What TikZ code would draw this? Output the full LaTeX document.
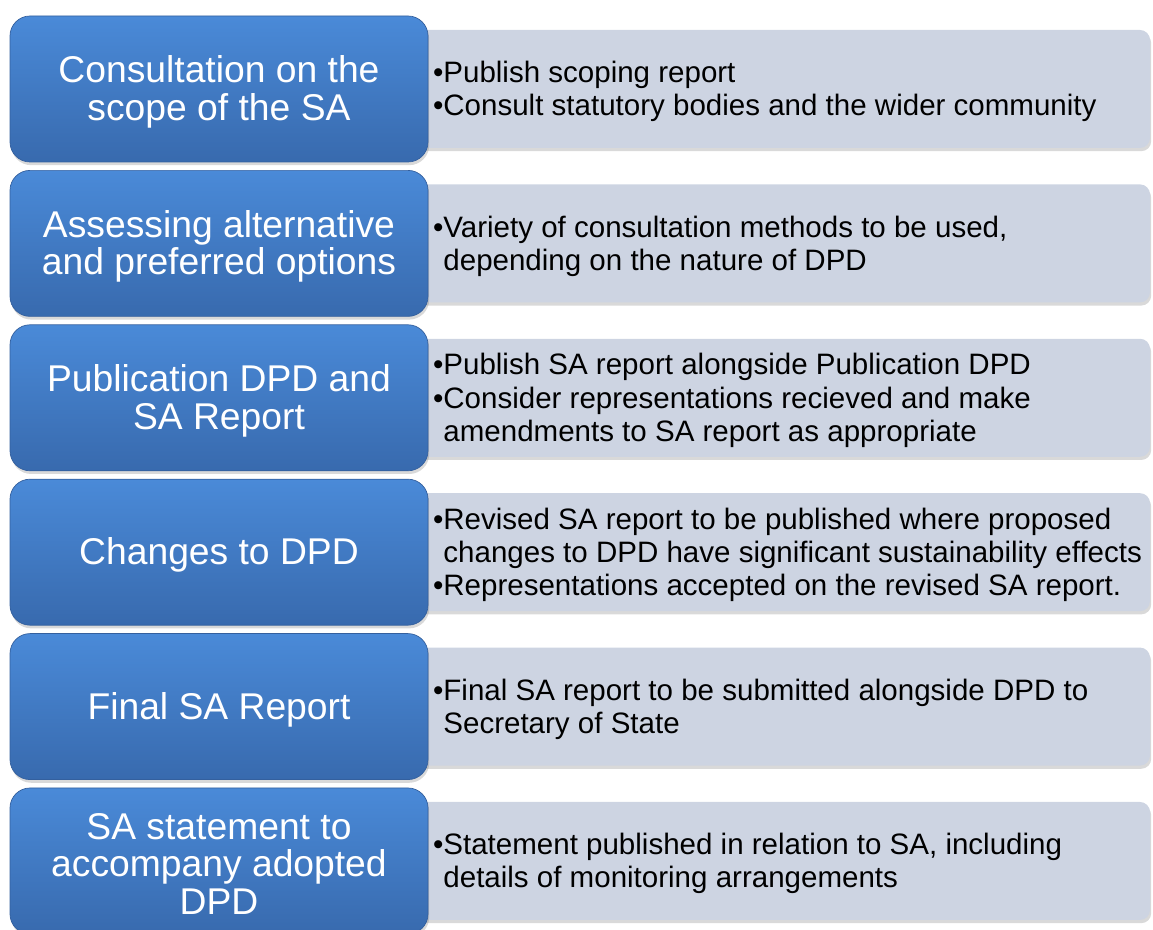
\documentclass[tikz,border=0pt]{standalone}
\usepackage{fontspec}
\setmainfont{Liberation Sans}
\usepackage{tikz}
\usetikzlibrary{shadows}

\definecolor{stagetop}{RGB}{74,138,216}
\definecolor{stagebottom}{RGB}{56,106,174}
\definecolor{stageedge}{RGB}{52,96,158}
\definecolor{notefill}{RGB}{205,212,226}

\newcommand{\bulletgap}{\phantom{•}}

\tikzset{
    stagebox/.style={rounded corners=0.5cm, top color=stagetop, bottom color=stagebottom,
        draw=stageedge, line width=0.5pt,
        drop shadow={shadow xshift=0.03cm, shadow yshift=-0.08cm, opacity=0.3}},
    notebox/.style={rounded corners=0.25cm, fill=notefill,
        drop shadow={shadow xshift=0.03cm, shadow yshift=-0.08cm, opacity=0.3}},
    stagetext/.style={text=white, align=center, inner sep=0pt,
        font=\fontsize{26.5}{27}\selectfont},
    notetext/.style={anchor=west, align=left, inner sep=0pt,
        font=\fontsize{21}{23.5}\selectfont}
}

\begin{document}
\begin{tikzpicture}
                \useasboundingbox (0,0) rectangle (28.825,23.25);

                % grey boxes first, the blue ones sit on top
                \path[notebox] (10,22.5) rectangle (28.75,19.55);
                \path[notebox] (10,18.64) rectangle (28.75,15.69);
                \path[notebox] (10,14.78) rectangle (28.75,11.83);
                \path[notebox] (10,10.92) rectangle (28.75,7.97);
                \path[notebox] (10,7.06) rectangle (28.75,4.11);
                \path[notebox] (10,3.2) rectangle (28.75,0.25);

                \draw[stagebox] (0.25,22.85) rectangle (10.7,19.2);
                \node[stagetext] (stage1) at (5.475,20.95) {Consultation on the\\scope of the SA};
                \node[notetext] (note1) at (10.82,20.96)
                    {•Publish scoping report\\•Consult statutory bodies and the wider community};

                \draw[stagebox] (0.25,18.99) rectangle (10.7,15.34);
                \node[stagetext] (stage2) at (5.475,17.09) {Assessing alternative\\and preferred options};
                \node[notetext] (note2) at (10.82,17.1)
                    {•Variety of consultation methods to be used,\\\bulletgap depending on the nature of DPD};

                \draw[stagebox] (0.25,15.13) rectangle (10.7,11.48);
                \node[stagetext] (stage3) at (5.475,13.23) {Publication DPD and\\SA Report};
                \node[notetext] (note3) at (10.82,13.24)
                    {•Publish SA report alongside Publication DPD\\•Consider representations recieved and make\\\bulletgap amendments to SA report as appropriate};

                \draw[stagebox] (0.25,11.27) rectangle (10.7,7.62);
                \node[stagetext] (stage4) at (5.475,9.37) {Changes to DPD};
                \node[notetext] (note4) at (10.82,9.38)
                    {•Revised SA report to be published where proposed\\\bulletgap changes to DPD have significant sustainability effects\\•Representations accepted on the revised SA report.};

                \draw[stagebox] (0.25,7.41) rectangle (10.7,3.76);
                \node[stagetext] (stage5) at (5.475,5.51) {Final SA Report};
                \node[notetext] (note5) at (10.82,5.52)
                    {•Final SA report to be submitted alongside DPD to\\\bulletgap Secretary of State};

                \draw[stagebox] (0.25,3.55) rectangle (10.7,-0.1);
                \node[stagetext] (stage6) at (5.475,1.65) {SA statement to\\accompany adopted\\DPD};
                \node[notetext] (note6) at (10.82,1.66)
                    {•Statement published in relation to SA, including\\\bulletgap details of monitoring arrangements};
\end{tikzpicture}
\end{document}
